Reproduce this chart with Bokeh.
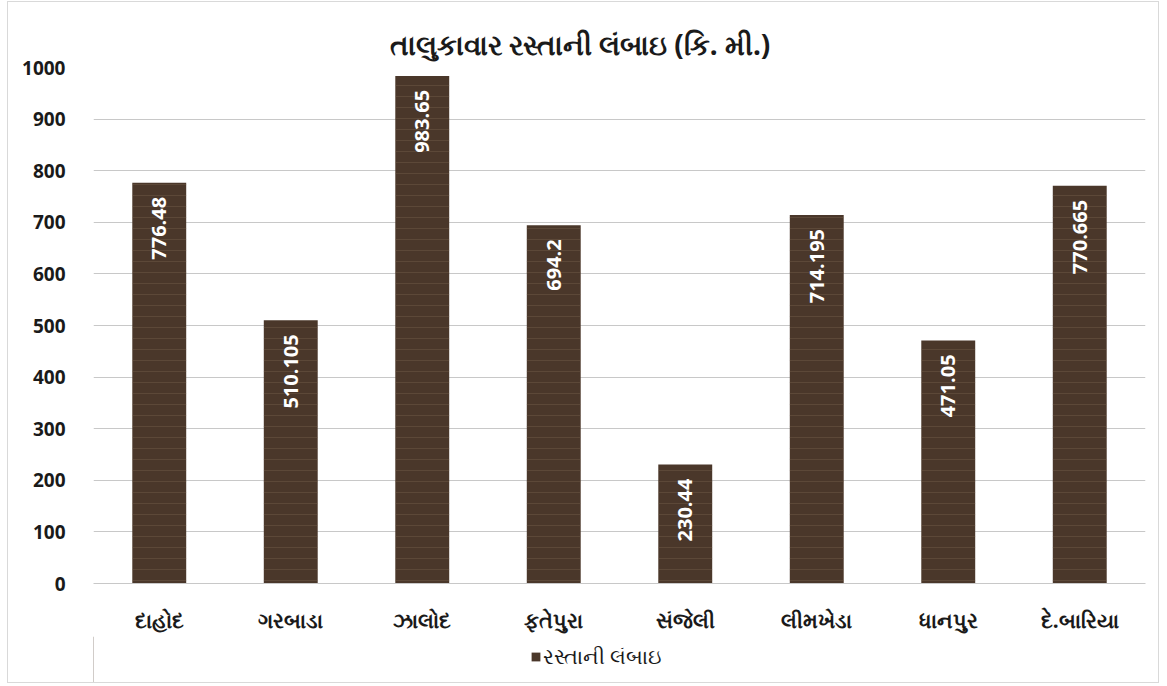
import math
from bokeh.plotting import figure
from bokeh.layouts import column
from bokeh.models import ColumnDataSource, Legend, LegendItem, FixedTicker, Range1d
from bokeh.core.properties import value
from bokeh.embed import file_html
from bokeh.resources import INLINE

talukas = ["દાહોદ", "ગરબાડા", "ઝાલોદ", "ફતેપુરા", "સંજેલી", "લીમખેડા", "ધાનપુર", "દે.બારિયા"]
lengths = [776.48, 510.105, 983.65, 694.2, 230.44, 714.195, 471.05, 770.665]
y_ticks = [0, 100, 200, 300, 400, 500, 600, 700, 800, 900, 1000]
title_text = "તાલુકાવાર રસ્તાની લંબાઇ (કિ. મી.)"
series_name = "રસ્તાની લંબાઇ"

BAR_FILL = "#4a372a"
src = ColumnDataSource(dict(x=talukas, top=lengths, label=[str(v) for v in lengths]))

p = figure(x_range=talukas, y_range=Range1d(0, 1000),
           width=1150, height=634,
           output_backend="svg", toolbar_location=None,
           min_border_left=85, min_border_right=13, min_border_top=65, min_border_bottom=44)

p.title.text = title_text
p.title.align = "left"
p.title.offset = 296
p.title.text_font = "Noto Sans"
p.title.text_font_size = "28px"
p.title.text_font_style = "bold"
p.title.text_color = "#1a1a1a"

bars = p.vbar(x="x", top="top", width=0.41, source=src,
              fill_color=BAR_FILL, line_color=None,
              hatch_pattern="horizontal_line", hatch_color="#7d6753",
              hatch_alpha=0.35, hatch_scale=11, hatch_weight=1)

p.text(x="x", y="top", text="label", source=src, angle=math.pi / 2,
       text_align="right", text_baseline="middle", y_offset=14,
       text_color="white", text_font=value("Open Sans"),
       text_font_style="bold", text_font_size="20px")

p.outline_line_color = None
p.xgrid.grid_line_color = None
p.ygrid.grid_line_color = "#c8c8c8"
p.ygrid.grid_line_width = 1
p.yaxis.ticker = FixedTicker(ticks=y_ticks)
p.yaxis.axis_line_color = None
p.yaxis.major_tick_line_color = None
p.yaxis.minor_tick_line_color = None
p.yaxis.major_label_standoff = 22
p.yaxis.major_label_text_font = "Open Sans"
p.yaxis.major_label_text_font_style = "bold"
p.yaxis.major_label_text_font_size = "19px"
p.yaxis.major_label_text_color = "#1a1a1a"

p.xaxis.axis_line_color = "#c8c8c8"
p.xaxis.major_tick_line_color = None
p.xaxis.major_label_standoff = 16
p.xaxis.major_label_text_font = "Noto Sans"
p.xaxis.major_label_text_font_style = "bold"
p.xaxis.major_label_text_font_size = "21px"
p.xaxis.major_label_text_color = "#1a1a1a"
p.x_range.range_padding = 0

# legend strip below the chart (no axes at all, same side borders so frames line up)
lg = figure(width=1150, height=46, x_range=Range1d(0, 1), y_range=Range1d(0, 1),
            x_axis_type=None, y_axis_type=None,
            output_backend="svg", toolbar_location=None,
            min_border_left=85, min_border_right=13, min_border_top=0, min_border_bottom=0)
lg.outline_line_color = None
lg.border_fill_color = "white"
lg.background_fill_color = "white"
swatch = lg.vbar(x=[-5], top=[1], width=0.1, fill_color=BAR_FILL, line_color=None)
legend = Legend(items=[LegendItem(label=series_name, renderers=[swatch])],
                orientation="horizontal", location=(437, 12),
                label_text_font="Noto Sans", label_text_font_size="21px",
                label_text_color="#1a1a1a", glyph_width=11, glyph_height=11,
                label_standoff=2, padding=0, margin=0, border_line_color=None,
                background_fill_alpha=0)
lg.add_layout(legend, "center")

layout = column(p, lg, spacing=0)
layout.styles = {"border": "1px solid #d9d9d9", "margin-left": "7px", "margin-top": "1px"}

open("out.html", "w").write(file_html(layout, INLINE))
